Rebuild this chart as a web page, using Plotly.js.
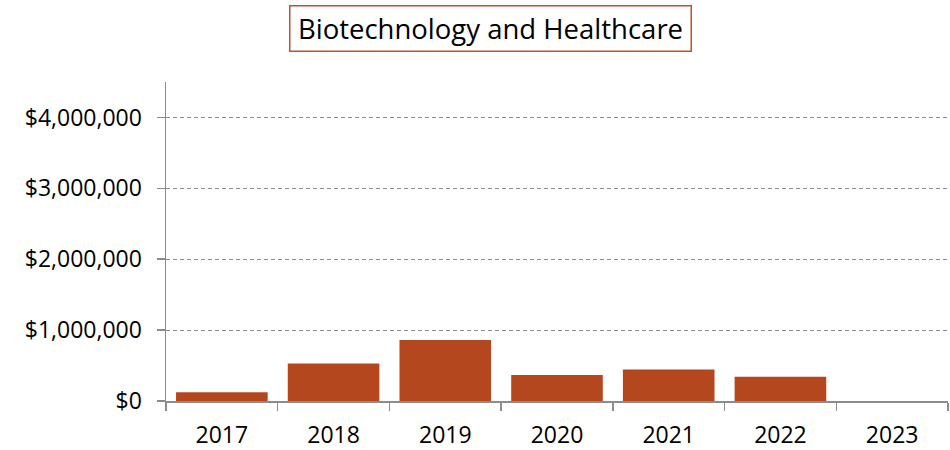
<!DOCTYPE html>
<html>
<head>
<meta charset="utf-8">
<script src="https://cdn.plot.ly/plotly-3.0.1.min.js"></script>
<style>html,body{margin:0;padding:0;background:#fff;}#chart{width:950px;height:450px;}</style>
</head>
<body>
<div id="chart"></div>
<script>
const years = ['2017', '2018', '2019', '2020', '2021', '2022', '2023'];
const amounts = [122000, 530000, 860000, 366000, 446000, 342000, 0];
const yTicks = [0, 1000000, 2000000, 3000000, 4000000];
const yTickLabels = ['$0', '$1,000,000', '$2,000,000', '$3,000,000', '$4,000,000'];
const chartTitle = 'Biotechnology and Healthcare';

const FONT = '"Open Sans", "Liberation Sans", sans-serif';
const axisGray = '#8c8c8c';

const trace = {
  type: 'bar',
  x: years,
  y: amounts,
  marker: { color: '#B5471F', line: { width: 0 } },
  hoverinfo: 'x+y'
};

const layout = {
  width: 950,
  height: 450,
  margin: { l: 166, r: 2, t: 82, b: 49 },
  paper_bgcolor: '#ffffff',
  plot_bgcolor: '#ffffff',
  bargap: 0.18,
  showlegend: false,
  font: { family: FONT, color: '#000000', size: 23 },
  xaxis: {
    type: 'category',
    showline: true,
    linecolor: axisGray,
    linewidth: 1.5,
    ticks: 'outside',
    tickson: 'boundaries',
    ticklen: 8,
    tickwidth: 1.5,
    tickcolor: axisGray,
    showgrid: false,
    zeroline: false,
    ticklabelstandoff: 13,
    tickfont: { family: FONT, size: 23, color: '#000' }
  },
  yaxis: {
    range: [0, 4500000],
    tickvals: yTicks,
    ticktext: yTickLabels,
    showline: true,
    linecolor: axisGray,
    linewidth: 1.5,
    ticks: 'outside',
    ticklen: 8,
    tickwidth: 1.5,
    tickcolor: axisGray,
    showgrid: true,
    gridcolor: '#8c8c8c',
    griddash: '4px,3px',
    gridwidth: 1,
    zeroline: false,
    ticklabelstandoff: 10,
    tickfont: { family: FONT, size: 23, color: '#000' }
  },
  annotations: [{
    text: chartTitle,
    xref: 'paper', yref: 'paper',
    x: (490.5 - 166) / 782, y: (450 - 28.5 - 49) / 319,
    xanchor: 'center', yanchor: 'middle',
    showarrow: false,
    font: { family: FONT, size: 27.5, color: '#000' },
    width: 392,
    height: 36,
    align: 'center',
    valign: 'middle',
    bordercolor: '#C0502A',
    borderwidth: 1.5,
    borderpad: 4,
    bgcolor: '#ffffff'
  }]
};

Plotly.newPlot('chart', [trace], layout, { displayModeBar: false, staticPlot: true });
</script>
</body>
</html>
